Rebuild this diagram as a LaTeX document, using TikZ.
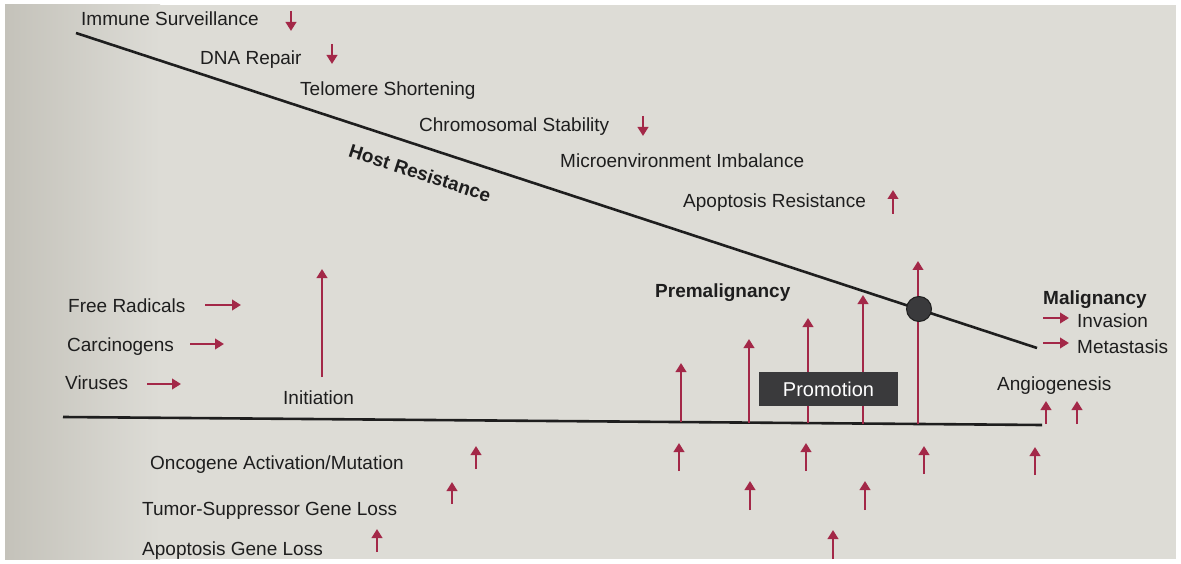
\documentclass[tikz,border=0pt]{standalone}
\usepackage{fontspec}
\setmainfont{Liberation Sans}
\usetikzlibrary{arrows.meta}
\definecolor{page}{RGB}{221,220,214}
\definecolor{pagedark}{RGB}{196,194,186}
\definecolor{arr}{RGB}{163,40,72}
\definecolor{ink}{RGB}{30,30,30}
\definecolor{boxc}{RGB}{58,58,60}
\begin{document}
\begin{tikzpicture}[x=1pt,y=-1pt,
  lbl/.style={anchor=base west, inner sep=0pt, text=ink, font=\fontsize{19}{22}\selectfont},
  blbl/.style={anchor=base west, inner sep=0pt, text=ink, font=\fontsize{19}{22}\selectfont\bfseries},
  sarrow/.style={draw=arr, line width=2.3pt, -{Triangle[length=9pt,width=10.5pt]}},
  mainline/.style={draw=ink, line width=2.6pt},
]
\useasboundingbox (0,0) rectangle (1181,564);
\fill[white] (0,0) rectangle (1181,564);
\fill[page] (5,5) rectangle (1176,559);
\shade[left color=pagedark, right color=page] (5,5) rectangle (160,559);

% main lines
\coordinate (T1) at (76,33);
\coordinate (T2) at (1037,348);
\coordinate (B1) at (63,417);
\coordinate (B2) at (1042,425);
\draw[mainline] (T1) -- (T2);
\draw[mainline] (B1) -- (B2);

% host resistance factors
\node[lbl] (immune) at (81,26) {Immune Surveillance};
\node[lbl] (dna) at (200,65) {DNA Repair};
\node[lbl] (telo) at (300,96) {Telomere Shortening};
\node[lbl] (chromo) at (419,132) {Chromosomal Stability};
\node[lbl] (micro) at (560,168) {Microenvironment Imbalance};
\node[lbl] (apores) at (683,208) {Apoptosis Resistance};
\node[text=ink, inner sep=0pt, rotate=-18, font=\fontsize{19}{22}\selectfont\bfseries] (host) at (420,173) {Host Resistance};

\draw[sarrow] (291,11) -- (291,31);
\draw[sarrow] (332,44) -- (332,64);
\draw[sarrow] (643,116) -- (643,136);
\draw[sarrow] (893,214) -- (893,190);

% initiation
\node[lbl] (free) at (68,312) {Free Radicals};
\node[lbl] (carc) at (67,351) {Carcinogens};
\node[lbl] (vir) at (65,389) {Viruses};
\node[lbl] (init) at (283,404) {Initiation};
\draw[sarrow] (205,305) -- (241,305);
\draw[sarrow] (190,344) -- (224,344);
\draw[sarrow] (147,384) -- (181,384);
\draw[sarrow] (322,377) -- (322,269);

% promotion arrows
\draw[sarrow] (681,422) -- (681,363);
\draw[sarrow] (749,422.6) -- (749,339);
\draw[sarrow] (808,423.1) -- (808,318);
\draw[sarrow] (863,423.5) -- (863,295);
\draw[sarrow] (918,424) -- (918,261);
\node[fill=boxc, minimum width=139pt, minimum height=34pt, inner sep=0pt, text=white, font=\fontsize{20}{22}\selectfont] (promo) at (828.5,389) {Promotion};
\node[circle, fill=boxc, draw=ink, line width=1pt, minimum size=25pt, inner sep=0pt] (dot) at (919,309) {};

\node[blbl] (premal) at (655,297) {Premalignancy};
\node[blbl] (malig) at (1043,305) {Malignancy};
\node[lbl] (inv) at (1077,327) {Invasion};
\node[lbl] (meta) at (1077,353) {Metastasis};
\node[lbl] (angio) at (997,390) {Angiogenesis};
\draw[sarrow] (1043,318) -- (1069,318);
\draw[sarrow] (1043,343) -- (1069,343);
\draw[sarrow] (1046,424) -- (1046,401);
\draw[sarrow] (1077,424) -- (1077,401);

% below line
\node[lbl] (onco) at (150,469) {Oncogene Activation/Mutation};
\node[lbl] (tumor) at (142,515) {Tumor-Suppressor Gene Loss};
\node[lbl] (apog) at (142,555) {Apoptosis Gene Loss};
\draw[sarrow] (476,469) -- (476,446);
\draw[sarrow] (452,504) -- (452,482);
\draw[sarrow] (377,552) -- (377,529);

\draw[sarrow] (679,471) -- (679,443);
\draw[sarrow] (806,471) -- (806,443);
\draw[sarrow] (924,474) -- (924,446);
\draw[sarrow] (1035,475) -- (1035,447);
\draw[sarrow] (750,510) -- (750,481);
\draw[sarrow] (865,510) -- (865,481);
\draw[sarrow] (833,559) -- (833,530);
\end{tikzpicture}
\end{document}
